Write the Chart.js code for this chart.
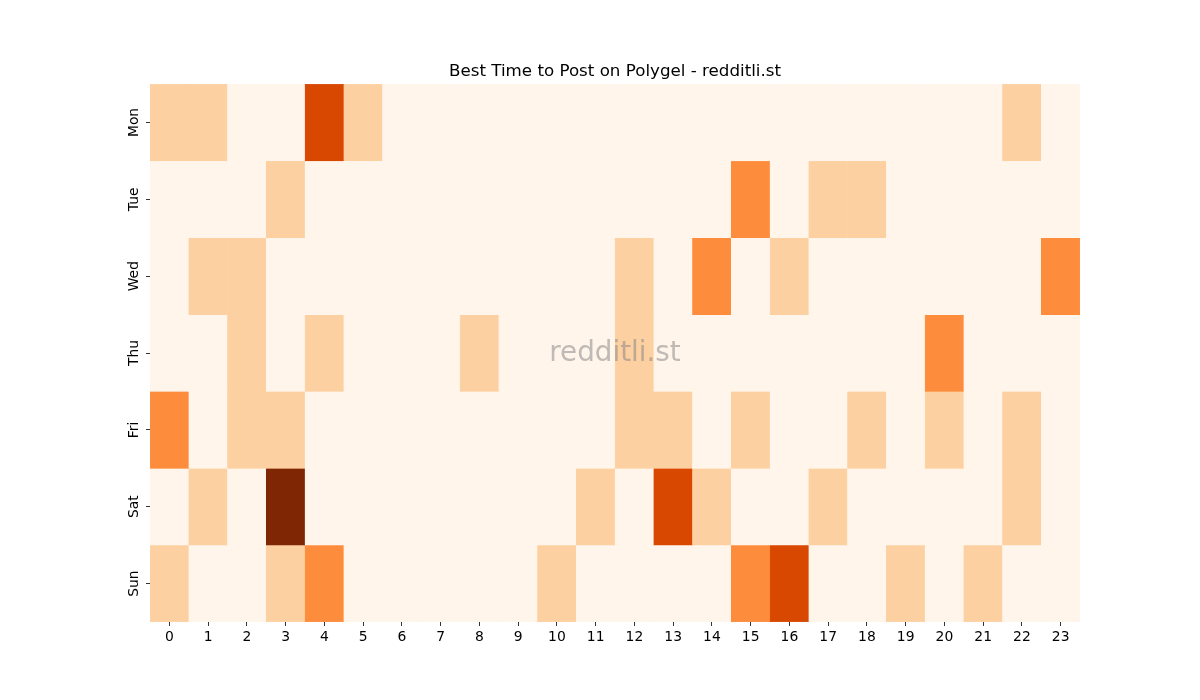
<!DOCTYPE html>
<html>
<head>
<meta charset="utf-8">
<script src="https://cdn.jsdelivr.net/npm/chart.js@4.4.1/dist/chart.umd.min.js"></script>
<style>
  html, body { margin: 0; padding: 0; background: #fff; }
  canvas { display: block; }
</style>
</head>
<body>
<canvas id="heat" width="1200" height="700"></canvas>
<script>
// hours along x, days down y
const hours = ['0','1','2','3','4','5','6','7','8','9','10','11','12','13','14','15','16','17','18','19','20','21','22','23'];
const days = ['Mon','Tue','Wed','Thu','Fri','Sat','Sun'];

// post activity per hour, one row per day
const mon = [1,1,0,0,3,1,0,0,0,0,0,0,0,0,0,0,0,0,0,0,0,0,1,0];
const tue = [0,0,0,1,0,0,0,0,0,0,0,0,0,0,0,2,0,1,1,0,0,0,0,0];
const wed = [0,1,1,0,0,0,0,0,0,0,0,0,1,0,2,0,1,0,0,0,0,0,0,2];
const thu = [0,0,1,0,1,0,0,0,1,0,0,0,1,0,0,0,0,0,0,0,2,0,0,0];
const fri = [2,0,1,1,0,0,0,0,0,0,0,0,1,1,0,1,0,0,1,0,1,0,1,0];
const sat = [0,1,0,4,0,0,0,0,0,0,0,1,0,3,1,0,0,1,0,0,0,0,1,0];
const sun = [1,0,0,1,2,0,0,0,0,0,1,0,0,0,0,2,3,0,0,1,0,1,0,0];
const rows = [mon, tue, wed, thu, fri, sat, sun];

// Oranges colormap, value 0..4
const oranges = ['#fff5eb','#fdd0a2','#fd8d3c','#d94801','#7f2704'];

const datasets = rows.map((vals, d) => ({
  label: days[d],
  data: vals.map(() => [d, d + 1]),
  backgroundColor: vals.map(v => oranges[v]),
  borderColor: vals.map(v => oranges[v]),
  borderWidth: 0.5,
  borderSkipped: false,
  grouped: false,
  barPercentage: 1,
  categoryPercentage: 1
}));

const watermark = {
  id: 'watermark',
  afterDatasetsDraw(chart){
    const a = chart.chartArea, ctx = chart.ctx;
    ctx.save();
    ctx.font = '27.8px "DejaVu Sans"';
    ctx.fillStyle = 'rgba(128,128,128,0.5)';
    ctx.textAlign = 'center';
    ctx.textBaseline = 'middle';
    ctx.fillText('redditli.st', (a.left + a.right) / 2, (a.top + a.bottom) / 2 + 1);
    ctx.restore();
  }
};

const tickFont = { family: 'DejaVu Sans', size: 13.9 };

new Chart(document.getElementById('heat').getContext('2d'), {
  type: 'bar',
  data: { labels: hours, datasets },
  plugins: [watermark],
  options: {
    responsive: false,
    animation: false,
    layout: { padding: { left: 110, right: 80, top: 62, bottom: 38 } },
    plugins: {
      legend: { display: false },
      tooltip: { enabled: false },
      title: {
        display: true,
        text: 'Best Time to Post on Polygel - redditli.st',
        color: '#000',
        font: { family: 'DejaVu Sans', size: 16.7, weight: 'normal' },
        padding: { top: 0, bottom: 2 }
      }
    },
    scales: {
      x: {
        type: 'category',
        offset: true,
        afterFit: s => { s.height = 40; },
        grid: { display: true, drawOnChartArea: false, offset: false, tickLength: 4, color: '#000', lineWidth: 0.8 },
        border: { display: false },
        ticks: { color: '#000', font: tickFont, padding: 3, maxRotation: 0, autoSkip: false }
      },
      y: {
        type: 'linear',
        min: 0, max: 7,
        reverse: true,
        afterFit: s => { s.width = 40; },
        afterBuildTicks: s => { s.ticks = days.map((_, i) => ({ value: i + 0.5 })); },
        grid: { display: true, drawOnChartArea: false, tickLength: 4, color: '#000', lineWidth: 0.8 },
        border: { display: false },
        ticks: {
          color: '#000', font: tickFont, padding: -4,
          minRotation: 90, maxRotation: 90, crossAlign: 'center',
          callback: (v, i) => days[i]
        }
      },
      // empty right-hand spacer so the title centres over the plot
      yRight: {
        type: 'linear',
        position: 'right',
        afterFit: s => { s.width = 40; },
        grid: { display: false },
        border: { display: false },
        ticks: { display: false }
      }
    }
  }
});
</script>
</body>
</html>
